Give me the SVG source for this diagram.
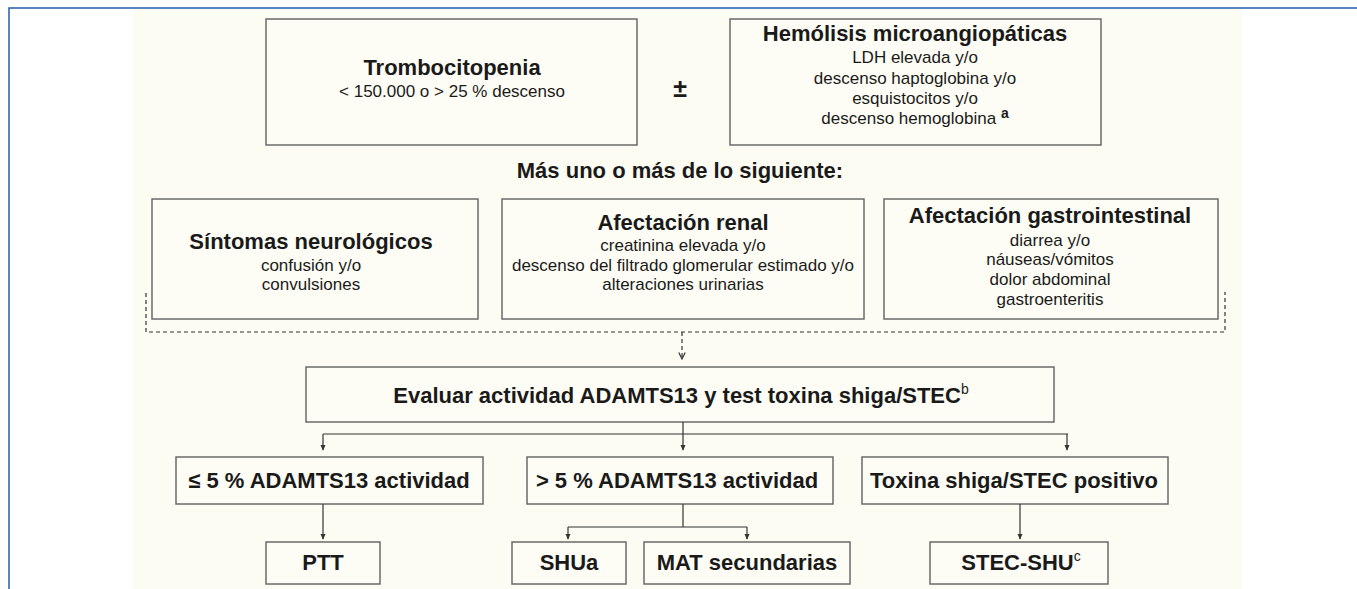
<svg xmlns="http://www.w3.org/2000/svg" width="1357" height="589" viewBox="0 0 1357 589">
<defs>
<style>
.box{fill:#fefdf5;stroke:#6a6a6a;stroke-width:1.5}
.t{font-family:"Liberation Sans",Arial,sans-serif;fill:#1a1a1a;text-anchor:middle}
.b{font-weight:bold;font-size:22px}
.r{font-size:17px}
.c{fill:none;stroke:#333;stroke-width:1.2}
.d{fill:none;stroke:#333;stroke-width:1.2;stroke-dasharray:4 3}
</style>
<marker id="ah" viewBox="0 0 8 8" refX="7" refY="4" markerWidth="6" markerHeight="6" markerUnits="userSpaceOnUse" orient="auto">
<path d="M0,0.5 L8,4 L0,7.5 z" fill="#333"/>
</marker>
<marker id="ao" viewBox="0 0 10 10" refX="9" refY="5" markerWidth="8" markerHeight="8" markerUnits="userSpaceOnUse" orient="auto">
<path d="M1,1 L9,5 L1,9" fill="none" stroke="#333" stroke-width="1.5"/>
</marker>
</defs>
<rect x="0" y="0" width="1357" height="589" fill="#ffffff"/>
<path d="M9,589 V8 H1357" fill="none" stroke="#1f5fae" stroke-width="1.5"/>
<rect x="133" y="9" width="1109" height="580" fill="#fdfcf2"/>

<g id="trombocitopenia">
<rect class="box" x="266" y="19" width="371" height="126"/>
<text class="t b" x="452" y="75">Trombocitopenia</text>
<text class="t r" x="452" y="97">&lt; 150.000 o &gt; 25 % descenso</text>
</g>
<g id="pm">
<text class="t" x="680" y="97" style="font-size:25px;font-weight:bold">±</text>
</g>
<g id="hemolisis">
<rect class="box" x="730" y="19" width="371" height="126"/>
<text class="t b" x="915" y="41">Hemólisis microangiopáticas</text>
<text class="t r" x="915" y="63">LDH elevada y/o</text>
<text class="t r" x="915" y="84">descenso haptoglobina y/o</text>
<text class="t r" x="915" y="104">esquistocitos y/o</text>
<text class="t r" x="915" y="124">descenso hemoglobina <tspan font-weight="bold" font-size="14" dy="-6">a</tspan></text>
</g>
<g id="mas">
<text class="t b" x="680" y="178">Más uno o más de lo siguiente:</text>
</g>
<g id="neuro">
<rect class="box" x="152" y="199" width="326" height="120"/>
<text class="t b" x="311" y="249">Síntomas neurológicos</text>
<text class="t r" x="311" y="271">confusión y/o</text>
<text class="t r" x="311" y="290">convulsiones</text>
</g>
<g id="renal">
<rect class="box" x="502" y="199" width="362" height="120"/>
<text class="t b" x="683" y="230">Afectación renal</text>
<text class="t r" x="683" y="251">creatinina elevada y/o</text>
<text class="t r" x="683" y="271">descenso del filtrado glomerular estimado y/o</text>
<text class="t r" x="683" y="290">alteraciones urinarias</text>
</g>
<g id="gastro">
<rect class="box" x="884" y="199" width="334" height="120"/>
<text class="t b" x="1050" y="223">Afectación gastrointestinal</text>
<text class="t r" x="1050" y="246">diarrea y/o</text>
<text class="t r" x="1050" y="265">náuseas/vómitos</text>
<text class="t r" x="1050" y="285">dolor abdominal</text>
<text class="t r" x="1050" y="305">gastroenteritis</text>
</g>
<g id="evaluar">
<rect class="box" x="306" y="367" width="748" height="55"/>
<text class="t b" x="681" y="403">Evaluar actividad ADAMTS13 y test toxina shiga/STEC<tspan font-size="14" font-weight="normal" dy="-9">b</tspan></text>
</g>
<g id="le5">
<rect class="box" x="176" y="457" width="307" height="47"/>
<text class="t b" x="329" y="488">≤ 5 % ADAMTS13 actividad</text>
</g>
<g id="gt5">
<rect class="box" x="527" y="457" width="306" height="47"/>
<text class="t b" x="677" y="488">&gt; 5 % ADAMTS13 actividad</text>
</g>
<g id="toxina">
<rect class="box" x="862" y="457" width="306" height="47"/>
<text class="t b" x="1014" y="488">Toxina shiga/STEC positivo</text>
</g>
<g id="ptt">
<rect class="box" x="266" y="542" width="114" height="42"/>
<text class="t b" x="323" y="570">PTT</text>
</g>
<g id="shua">
<rect class="box" x="512" y="542" width="114" height="42"/>
<text class="t b" x="569" y="570">SHUa</text>
</g>
<g id="mat">
<rect class="box" x="644" y="542" width="206" height="42"/>
<text class="t b" x="747" y="570">MAT secundarias</text>
</g>
<g id="stecshu">
<rect class="box" x="930" y="542" width="178" height="42"/>
<text class="t b" x="1021" y="570">STEC-SHU<tspan font-size="14" font-weight="normal" dy="-9">c</tspan></text>
</g>

<g id="connectors">
<path class="d" d="M146,293 V332 H1225 V292"/>
<path class="d" d="M682,332 V359" marker-end="url(#ao)"/>
<path class="c" d="M323,434 H1068"/>
<path class="c" d="M683,422 V450" marker-end="url(#ah)"/>
<path class="c" d="M323,434 V450" marker-end="url(#ah)"/>
<path class="c" d="M1067,434 V450" marker-end="url(#ah)"/>
<path class="c" d="M323,504 V539" marker-end="url(#ah)"/>
<path class="c" d="M683,504 V527 M568,527 H747"/>
<path class="c" d="M568,527 V539" marker-end="url(#ah)"/>
<path class="c" d="M747,527 V539" marker-end="url(#ah)"/>
<path class="c" d="M1020,504 V539" marker-end="url(#ah)"/>
</g>
</svg>
